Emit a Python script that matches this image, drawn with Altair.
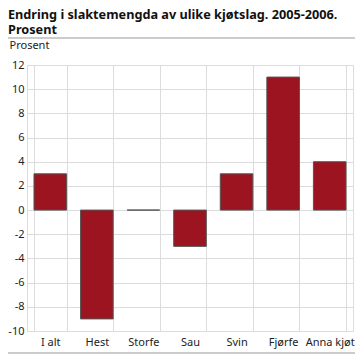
import altair as alt
import pandas as pd

categories = ["I alt", "Hest", "Storfe", "Sau", "Svin", "Fjørfe", "Anna kjøt"]
values = [3, -9, 0, -3, 3, 11, 4]
y_ticks = [-10, -8, -6, -4, -2, 0, 2, 4, 6, 8, 10, 12]
title_line1 = "Endring i slaktemengda av ulike kjøtslag. 2005-2006."
title_line2 = "Prosent"
y_title = "Prosent"

df = pd.DataFrame({"cat": categories, "val": values})
FONT = "Noto Sans"
W, H = 326, 266
GRID = "#dcdcdc"

bars = alt.Chart(df).mark_bar(color="#9C1420", stroke="#555555", strokeWidth=1).encode(
    x=alt.X("cat:N", sort=categories, title=None,
            scale=alt.Scale(paddingInner=0.3, paddingOuter=0.15),
            axis=alt.Axis(labelAngle=0, ticks=False, domain=False, grid=True,
                          tickBand="extent", gridColor=GRID,
                          labelPadding=5, labelFontSize=11, labelColor="#222",
                          labelFont=FONT)),
    y=alt.Y("val:Q", scale=alt.Scale(domain=[-10, 12], nice=False),
            axis=alt.Axis(values=y_ticks, ticks=False, domain=False, grid=True,
                          gridColor=GRID, labelPadding=3, labelFontSize=11,
                          labelColor="#222", labelFont=FONT, labelOverlap=False,
                          labelExpr="datum.value + ''",
                          title=y_title, titleAngle=0, titleAlign="left",
                          titleBaseline="alphabetic", titleX=-18, titleY=-17,
                          titleFontWeight="normal", titleFontSize=11,
                          titleColor="#222", titleFont=FONT)),
)

tdf = pd.DataFrame({"t": [0]})
t1 = alt.Chart(tdf).mark_text(align="left", baseline="alphabetic", fontSize=12.7,
                              fontWeight="bold", font=FONT, color="#111").encode(
    x=alt.value(-19), y=alt.value(-46), text=alt.value(title_line1))
t2 = alt.Chart(tdf).mark_text(align="left", baseline="alphabetic", fontSize=12.7,
                              fontWeight="bold", font=FONT, color="#111").encode(
    x=alt.value(-19), y=alt.value(-31), text=alt.value(title_line2))

rule_top = alt.Chart(tdf).mark_rule(color="#999", strokeWidth=1).encode(
    x=alt.value(-20), x2=alt.value(W + 4), y=alt.value(-27))
rule_bot = alt.Chart(tdf).mark_rule(color="#999", strokeWidth=1).encode(
    x=alt.value(-20), x2=alt.value(W + 4), y=alt.value(H + 22))

chart = alt.layer(bars, t1, t2, rule_top, rule_bot).properties(
    width=W, height=H,
    autosize=alt.AutoSizeParams(type="none"),
    padding={"left": 19, "top": 57, "right": 2, "bottom": 24},
).configure_view(stroke=GRID)

chart.save("out.html", embed_options={"renderer": "svg", "actions": False})
